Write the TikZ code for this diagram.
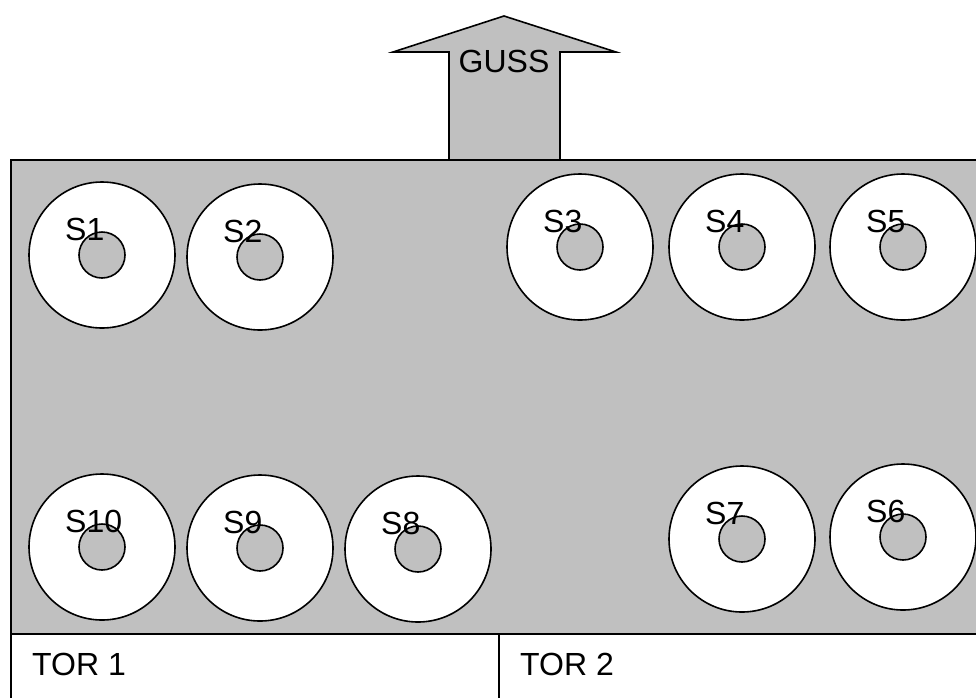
\documentclass[tikz,border=0pt]{standalone}
\usepackage{fontspec}
\setmainfont{Liberation Sans}
\usetikzlibrary{calc}
\definecolor{hallgray}{RGB}{192,192,192}
\tikzset{
  outline/.style={draw=black, line width=1.6pt},
  ring/.style={circle, outline, fill=white, minimum size=146pt, inner sep=0pt},
  hub/.style={circle, outline, fill=hallgray, minimum size=46pt, inner sep=0pt},
  tag/.style={anchor=base west, inner sep=0pt, font=\fontsize{32}{38}\selectfont},
}
\begin{document}
\begin{tikzpicture}[x=1pt, y=-1pt]
\useasboundingbox (0,0) rectangle (976,697);
\clip (0,0) rectangle (976,697);

% outlet arrow
\draw[outline, fill=hallgray, line join=miter]
  (449,162) -- (449,52) -- (393,52) -- (504,16) -- (616,52) -- (560,52) -- (560,162) -- cycle;
\node[anchor=base, inner sep=0pt, font=\fontsize{32}{38}\selectfont] (guss) at (504,72) {GUSS};

% hall floor
\draw[outline, fill=hallgray] (11,160) rectangle (990,634);

% gate strip
\draw[outline, fill=white] (11,634) rectangle (990,710);
\coordinate (gtop) at (499,634);
\coordinate (gbot) at (499,700);
\draw[outline] (gtop) -- (gbot);
\node[tag] (tor1) at (32,675) {TOR 1};
\node[tag] (tor2) at (520,675) {TOR 2};

% stations
\foreach \nm/\cx/\cy in {S1/102/255, S2/260/257, S3/580/247, S4/742/247, S5/903/247,
                         S6/903/537, S7/742/539, S8/418/549, S9/260/548, S10/102/547} {
  \node[ring] (\nm-ring) at (\cx,\cy) {};
  \node[hub] (\nm-hub) at (\nm-ring.center) {};
  \node[tag] (\nm-tag) at ($(\nm-ring.center)+(-37,-15)$) {\nm};
}
\end{tikzpicture}
\end{document}
